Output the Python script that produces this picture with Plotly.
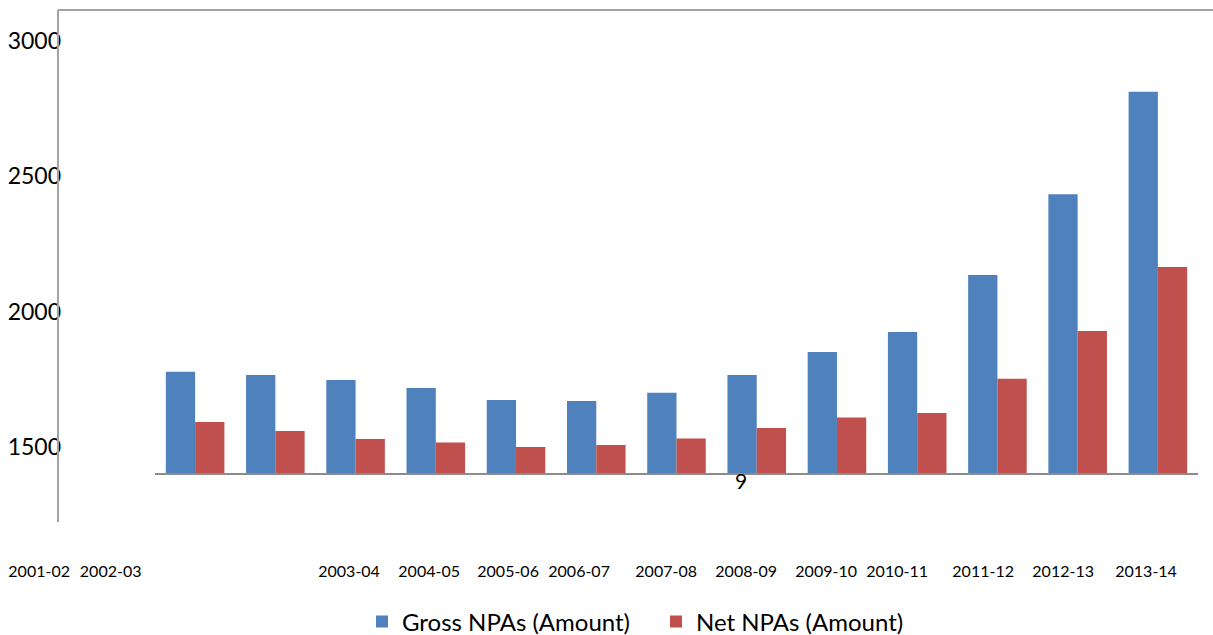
import plotly.graph_objects as go

# ---- data ----
years = ["2001-02", "2002-03", "2003-04", "2004-05", "2005-06", "2006-07", "2007-08",
         "2008-09", "2009-10", "2010-11", "2011-12", "2012-13", "2013-14"]
gross_npa = [1779, 1767, 1749, 1719, 1675, 1671, 1702, 1767, 1852, 1926, 2136, 2434, 2812]
net_npa = [1594, 1561, 1531, 1518, 1502, 1509, 1533, 1572, 1610, 1627, 1753, 1929, 2165]
y_ticks = [1500, 2000, 2500, 3000]
series_names = ["Gross NPAs (Amount)", "Net NPAs (Amount)"]

# ---- layout helpers (positions of the displaced category labels, in category units) ----
label_pos = [-1.944, -1.053, 1.919, 2.917, 3.901, 4.786, 5.871,
             6.868, 7.865, 8.750, 9.822, 10.819, 11.853]

W, H = 1213, 635
FONT = "Lato, 'Open Sans', sans-serif"
idx = list(range(len(years)))

fig = go.Figure()
fig.add_trace(go.Bar(x=idx, y=gross_npa, name=series_names[0],
                     marker=dict(color="#4F81BD", line=dict(width=0)),
                     customdata=years, hovertemplate="%{customdata}: %{y}<extra>Gross</extra>"))
fig.add_trace(go.Bar(x=idx, y=net_npa, name=series_names[1],
                     marker=dict(color="#C0504D", line=dict(width=0)),
                     customdata=years, hovertemplate="%{customdata}: %{y}<extra>Net</extra>"))

top_px, bot_px = 10, 474
ypos_frac = 61 / W
fig.update_layout(
    width=W, height=H,
    margin=dict(l=0, r=0, t=top_px, b=H - bot_px, pad=0),
    paper_bgcolor="white", plot_bgcolor="white",
    barmode="group", bargap=0.27, bargroupgap=0,
    font=dict(family=FONT, color="black"),
    xaxis=dict(range=[-2.432, 12.687], tickvals=label_pos, ticktext=years,
               showgrid=False, zeroline=False, showline=False, ticks="",
               tickfont=dict(size=16), ticklabelstandoff=86, automargin=False,
               fixedrange=True),
    yaxis=dict(range=[1402, 3113], tickvals=y_ticks, anchor="free", position=ypos_frac,
               showgrid=False, zeroline=False, showline=False, ticks="",
               tickfont=dict(size=23), automargin=False, fixedrange=True),
    legend=dict(orientation="h", xref="container", yref="container",
                x=362 / W, y=1 - 622 / H, xanchor="left", yanchor="middle",
                font=dict(size=24), traceorder="normal", itemwidth=30,
                entrywidth=249, entrywidthmode="pixels"),
    showlegend=True,
)

line_col = "#A3A3A3"
# left vertical frame line, extending below the baseline
fig.add_shape(type="line", xref="paper", yref="paper",
              x0=58 / W, x1=58 / W, y0=(bot_px - 522) / (bot_px - top_px), y1=1,
              line=dict(color=line_col, width=2))
# top frame line
fig.add_shape(type="line", xref="paper", yref="paper",
              x0=58 / W, x1=1, y0=1, y1=1, line=dict(color=line_col, width=2))
# category baseline
fig.add_shape(type="line", xref="x", yref="paper",
              x0=-0.5, x1=12.5, y0=0, y1=0, line=dict(color="#8C8C8C", width=2))

# stray page number
fig.add_annotation(text="9", xref="x", yref="paper", x=6.8, y=(bot_px - 480) / (bot_px - top_px),
                   showarrow=False, font=dict(size=21, color="black"), yanchor="middle")

fig.write_html("out.html", config={"displayModeBar": False},
               post_script="document.body.style.margin='0';document.body.style.overflow='hidden';")
